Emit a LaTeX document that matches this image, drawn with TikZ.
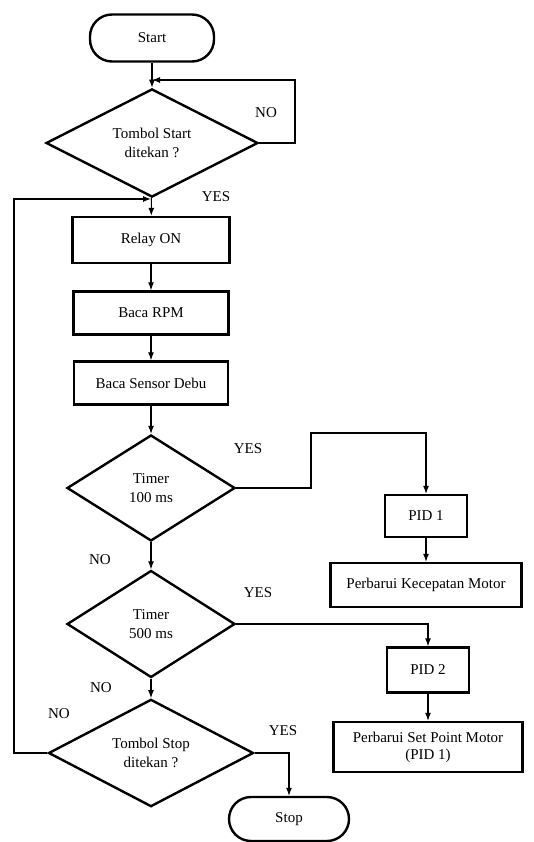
\documentclass[tikz,border=0pt]{standalone}
\usepackage{fontspec}
\setmainfont{Liberation Serif}
\newfontfamily\flowfont{Liberation Serif}
\usepackage{tikz}
\usetikzlibrary{arrows.meta}
\usetikzlibrary{shapes.geometric}
\tikzstyle{terminal}=[rectangle, draw, rounded corners=22pt, line width=2.4pt]
\tikzstyle{process}=[rectangle, draw, line width=2.4pt, align=center, inner sep=2pt]
\tikzstyle{decision}=[diamond, draw, line width=2.4pt, align=center, inner sep=0pt]
\tikzstyle{flowline}=[draw=black, line width=1.1pt, >={Latex[length=8pt, width=6pt]}]

\begin{document}
\begin{tikzpicture}[x=1pt, y=-1pt, font=\flowfont\fontsize{15}{19}\selectfont]
		   \useasboundingbox (0,0) rectangle (534,842);
		   \begin{scope}
			   \node (start) at (152, 38)[terminal, minimum width=124, minimum height=47] {Start};
			   \node (tstart) at (152, 143)[decision, minimum width=212, minimum height=100] {Tombol Start\\ditekan ?};
			   \node (relay) at (151, 240)[process, minimum width=157, minimum height=46] {Relay ON};
			   \node (rpm) at (151, 313)[process, minimum width=155, minimum height=43] {Baca RPM};
			   \node (debu) at (151, 383)[process, minimum width=154, minimum height=43] {Baca Sensor Debu};
			   \node (t100) at (151, 488)[decision, minimum width=168, minimum height=106] {Timer\\100 ms};
			   \node (t500) at (151, 624)[decision, minimum width=168, minimum height=107] {Timer\\500 ms};
			   \node (tstop) at (151, 753)[decision, minimum width=205, minimum height=100] {Tombol Stop\\ditekan ?};
			   \node (stop) at (289, 819)[terminal, minimum width=120, minimum height=44] {Stop};

			   \node (pid1) at (426, 516)[process, minimum width=82, minimum height=42] {PID 1};
			   \node (motor1) at (426, 585)[process, minimum width=191, minimum height=44] {Perbarui Kecepatan Motor};
			   \node (pid2) at (428, 670)[process, minimum width=82, minimum height=45] {PID 2};
			   \node (motor2) at (428, 747)[process, minimum width=189, minimum height=50] {Perbarui Set Point Motor\\[-2pt](PID 1)};

			   \node (no1) at (266, 113) {NO};
			   \node (yes1) at (216, 197) {YES};
			   \node (yes2) at (248, 449) {YES};
			   \node (no2) at (100, 560) {NO};
			   \node (yes3) at (258, 593) {YES};
			   \node (no3) at (101, 688) {NO};
			   \node (no4) at (59, 714) {NO};
			   \node (yes4) at (283, 731) {YES};

			   \coordinate (j1) at (152, 80);
			   \coordinate (r1) at (295, 80);
			   \coordinate (j2) at (151, 199);
			   \coordinate (l1) at (14, 199);
			   \coordinate (k1) at (311, 433);
		   \end{scope}
		   \begin{scope}
			   \path [flowline, ->] (start) edge (tstart);
			   \path [flowline, ->] (tstart) edge (relay);
			   \path [flowline, ->] (relay) edge (rpm);
			   \path [flowline, ->] (rpm) edge (debu);
			   \path [flowline, ->] (debu) edge (t100);
			   \path [flowline, ->] (t100) edge (t500);
			   \path [flowline, ->] (t500) edge (tstop);
			   \path [flowline, ->] (pid1) edge (motor1);
			   \path [flowline, ->] (pid2) edge (motor2);

			   \draw [flowline, ->] (tstart.east) -| (r1) -- (j1);
			   \draw [flowline, ->] (tstop.west) -| (l1) -- (j2);
			   \draw [flowline, ->] (t100.east) -| (k1) -| (pid1.north);
			   \draw [flowline, ->] (t500.east) -| (pid2.north);
			   \draw [flowline, ->] (tstop.east) -| (stop.north);
		   \end{scope}
	   \end{tikzpicture}
\end{document}
